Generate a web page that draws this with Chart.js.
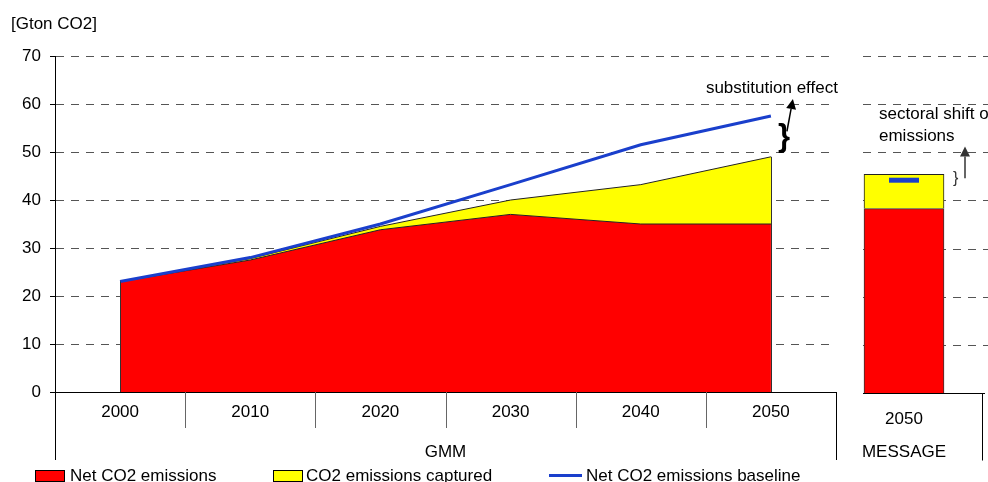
<!DOCTYPE html>
<html>
<head>
<meta charset="utf-8">
<script src="https://cdn.jsdelivr.net/npm/chart.js@4.4.1/dist/chart.umd.min.js"></script>
<style>
  body { margin: 0; background: #fff; font-family: "Liberation Sans", Arial, sans-serif; }
  #wrap { position: relative; width: 988px; height: 482px; overflow: hidden; }
  #left { position: absolute; left: 0; top: 0; }
  #right { position: absolute; left: 840px; top: 0; }
  .txt { position: absolute; font-size: 17px; line-height: 19px; color: #000; white-space: nowrap; }
  .box { position: absolute; top: 470px; width: 28px; height: 10px; border: 1px solid #000; }
</style>
</head>
<body>
<div id="wrap">
  <canvas id="left" width="845" height="482"></canvas>
  <canvas id="right" width="148" height="482"></canvas>
  <div class="txt" style="left:11px;top:14px;">[Gton CO2]</div>
  <div class="box" style="left:35px;background:#ff0000;"></div>
  <div class="txt" style="left:70px;top:466px;">Net CO2 emissions</div>
  <div class="box" style="left:273px;background:#ffff00;"></div>
  <div class="txt" style="left:306px;top:466px;">CO2 emissions captured</div>
  <div style="position:absolute;left:549px;top:474px;width:33px;height:3px;background:#1a3fcc;"></div>
  <div class="txt" style="left:586px;top:466px;">Net CO2 emissions baseline</div>
</div>
<script>
document.addEventListener('DOMContentLoaded', function () {
  // GMM model, 2000-2050
  const years = ['2000', '2010', '2020', '2030', '2040', '2050'];
  const netEmissions = [23, 27.5, 33.8, 37, 35, 35];
  const captured = [0, 0.3, 0.7, 3, 8.2, 14];
  const baseline = [23, 28, 35, 43.2, 51.5, 57.5];

  // MESSAGE model, 2050 only
  const msgYears = ['2050'];
  const msgNet = [38.3];
  const msgCaptured = [7.1];
  const msgBaseline = [44.2];

  const yTicks = [0, 10, 20, 30, 40, 50, 60, 70];

  const red = '#ff0000';
  const yellow = '#ffff00';
  const blue = '#1a3fcc';
  const font = { family: '"Liberation Sans", Arial, sans-serif', size: 17 };
  const cssFont = '17px "Liberation Sans", Arial, sans-serif';

  function arrow(ctx, x1, y1, x2, y2, color) {
    const a = Math.atan2(y2 - y1, x2 - x1);
    const len = 10, w = 5;
    const bx = x2 - len * Math.cos(a), by = y2 - len * Math.sin(a);
    ctx.save();
    ctx.strokeStyle = color; ctx.fillStyle = color; ctx.lineWidth = 1.5;
    ctx.beginPath(); ctx.moveTo(x1, y1); ctx.lineTo(bx, by); ctx.stroke();
    ctx.beginPath();
    ctx.moveTo(x2, y2);
    ctx.lineTo(bx + w * Math.sin(a), by - w * Math.cos(a));
    ctx.lineTo(bx - w * Math.sin(a), by + w * Math.cos(a));
    ctx.closePath(); ctx.fill();
    ctx.restore();
  }

  // group axis, area edges and notes for the GMM chart
  const gmmExtras = {
    id: 'gmmExtras',
    afterDraw(chart) {
      const { ctx, chartArea: ca, scales: { x, y } } = chart;
      ctx.save();
      // vertical edges of the stacked areas
      ctx.strokeStyle = '#333'; ctx.lineWidth = 1;
      [0, years.length - 1].forEach(i => {
        const px = Math.round(x.getPixelForValue(i)) + 0.5;
        ctx.beginPath();
        ctx.moveTo(px, y.getPixelForValue(netEmissions[i] + captured[i]));
        ctx.lineTo(px, ca.bottom);
        ctx.stroke();
      });
      // category separators
      ctx.strokeStyle = '#666';
      for (let i = 0; i < years.length - 1; i++) {
        const px = Math.round((x.getPixelForValue(i) + x.getPixelForValue(i + 1)) / 2) + 0.5;
        ctx.beginPath(); ctx.moveTo(px, ca.bottom); ctx.lineTo(px, ca.bottom + 36); ctx.stroke();
      }
      // outer group frame
      ctx.strokeStyle = '#000';
      [ca.left, ca.right].forEach(px => {
        px = Math.round(px) + 0.5;
        ctx.beginPath(); ctx.moveTo(px, ca.bottom); ctx.lineTo(px, ca.bottom + 68); ctx.stroke();
      });
      ctx.fillStyle = '#000';
      ctx.font = cssFont;
      ctx.textAlign = 'center'; ctx.textBaseline = 'middle';
      ctx.fillText('GMM', (ca.left + ca.right) / 2, ca.bottom + 60);

      // substitution effect note
      const last = years.length - 1;
      const xl = x.getPixelForValue(last);
      const yTop = y.getPixelForValue(baseline[last]);
      const yBot = y.getPixelForValue(netEmissions[last] + captured[last]);
      ctx.font = 'bold 31px "Liberation Sans", Arial, sans-serif';
      ctx.textAlign = 'left';
      ctx.fillText('}', xl + 7, (yTop + yBot) / 2 + 1);
      arrow(ctx, xl + 16, (yTop + yBot) / 2 - 5, xl + 22, yTop - 17, '#000');
      ctx.font = cssFont;
      ctx.fillText('substitution effect', xl - 65, yTop - 28);
      ctx.restore();
    }
  };

  new Chart(document.getElementById('left').getContext('2d'), {
    type: 'line',
    data: {
      labels: years,
      datasets: [
        {
          label: 'Net CO2 emissions baseline',
          data: baseline,
          stack: 'base',
          borderColor: blue,
          borderWidth: 3,
          pointRadius: 0,
          fill: false,
          tension: 0
        },
        {
          label: 'Net CO2 emissions',
          data: netEmissions,
          stack: 'ccs',
          backgroundColor: red,
          borderColor: '#222',
          borderWidth: 1,
          pointRadius: 0,
          fill: 'origin',
          tension: 0
        },
        {
          label: 'CO2 emissions captured',
          data: captured,
          stack: 'ccs',
          backgroundColor: yellow,
          borderColor: '#222',
          borderWidth: 1,
          pointRadius: 0,
          fill: '-1',
          tension: 0
        }
      ]
    },
    options: {
      responsive: false,
      animation: false,
      layout: { padding: { top: 56, right: 9, left: 0, bottom: 0 } },
      plugins: { legend: { display: false }, tooltip: { enabled: false } },
      scales: {
        x: {
          offset: true,
          grid: { display: false, drawTicks: false },
          border: { display: true, color: '#000', width: 1 },
          ticks: { font, color: '#000', padding: 10 },
          afterFit: s => { s.height = 90; }
        },
        y: {
          stacked: true,
          min: 0,
          max: 70,
          afterBuildTicks: s => { s.ticks = yTicks.map(v => ({ value: v })); },
          grid: {
            color: c => (c.tick && c.tick.value === 0 ? 'rgba(0,0,0,0)' : '#555'),
            tickColor: '#000',
            tickLength: 5,
            lineWidth: 1
          },
          border: { display: true, color: '#000', width: 1, dash: [8, 7] },
          ticks: { font, color: '#000', padding: 9 },
          afterFit: s => { s.width = 55; }
        }
      }
    },
    plugins: [gmmExtras]
  });

  // grid, axis frame and notes for the MESSAGE chart
  const msgExtras = {
    id: 'msgExtras',
    beforeDatasetsDraw(chart) {
      const { ctx, chartArea: ca, scales: { y } } = chart;
      ctx.save();
      ctx.strokeStyle = '#555'; ctx.lineWidth = 1; ctx.setLineDash([8, 7]);
      yTicks.slice(1).forEach(v => {
        const py = Math.round(y.getPixelForValue(v)) + 0.5;
        ctx.beginPath(); ctx.moveTo(ca.left + 3, py); ctx.lineTo(chart.width, py); ctx.stroke();
      });
      ctx.restore();
    },
    afterDraw(chart) {
      const { ctx, chartArea: ca, scales: { x, y } } = chart;
      ctx.save();
      ctx.strokeStyle = '#000'; ctx.lineWidth = 1;
      const by = Math.round(ca.bottom) + 0.5;
      ctx.beginPath(); ctx.moveTo(ca.left + 3, by); ctx.lineTo(chart.width - 3, by); ctx.stroke();
      const vx = chart.width - 5.5;
      ctx.beginPath(); ctx.moveTo(vx, by); ctx.lineTo(vx, by + 67); ctx.stroke();
      ctx.fillStyle = '#000';
      ctx.font = cssFont;
      ctx.textAlign = 'center'; ctx.textBaseline = 'middle';
      ctx.fillText('MESSAGE', x.getPixelForValue(0), ca.bottom + 59);

      // sectoral shift note
      const xc = x.getPixelForValue(0);
      const yb = y.getPixelForValue(msgBaseline[0]);
      const yt = y.getPixelForValue(msgNet[0] + msgCaptured[0]);
      ctx.textAlign = 'left';
      ctx.fillStyle = '#333';
      ctx.font = '16px "Liberation Sans", Arial, sans-serif';
      ctx.fillText('}', xc + 49, (yb + yt) / 2 + 1);
      arrow(ctx, xc + 61, yb - 2, xc + 61, yt - 28, '#333');
      ctx.fillStyle = '#000';
      ctx.font = cssFont;
      ctx.fillText('sectoral shift of', xc - 25, yt - 60);
      ctx.fillText('emissions', xc - 25, yt - 38);
      ctx.restore();
    }
  };

  new Chart(document.getElementById('right').getContext('2d'), {
    type: 'bar',
    data: {
      labels: msgYears,
      datasets: [
        {
          type: 'line',
          label: 'Net CO2 emissions baseline',
          data: msgBaseline,
          stack: 'base',
          showLine: false,
          pointStyle: 'line',
          pointRadius: 15,
          pointBorderWidth: 5,
          pointBorderColor: blue,
          order: 0
        },
        {
          label: 'Net CO2 emissions',
          data: msgNet,
          stack: 'ccs',
          backgroundColor: red,
          borderColor: '#333',
          borderWidth: 1,
          barThickness: 80,
          order: 1
        },
        {
          label: 'CO2 emissions captured',
          data: msgCaptured,
          stack: 'ccs',
          backgroundColor: yellow,
          borderColor: '#222',
          borderWidth: 1,
          barThickness: 80,
          order: 1
        }
      ]
    },
    options: {
      responsive: false,
      animation: false,
      layout: { padding: { top: 56, right: 40, left: 10, bottom: 0 } },
      plugins: { legend: { display: false }, tooltip: { enabled: false } },
      scales: {
        x: {
          stacked: true,
          grid: { display: false, drawTicks: false },
          border: { display: false },
          ticks: { font, color: '#000', padding: 16 },
          afterFit: s => { s.height = 89; }
        },
        y: {
          stacked: true,
          display: false,
          min: 0,
          max: 70
        }
      }
    },
    plugins: [msgExtras]
  });
});
</script>
</body>
</html>
